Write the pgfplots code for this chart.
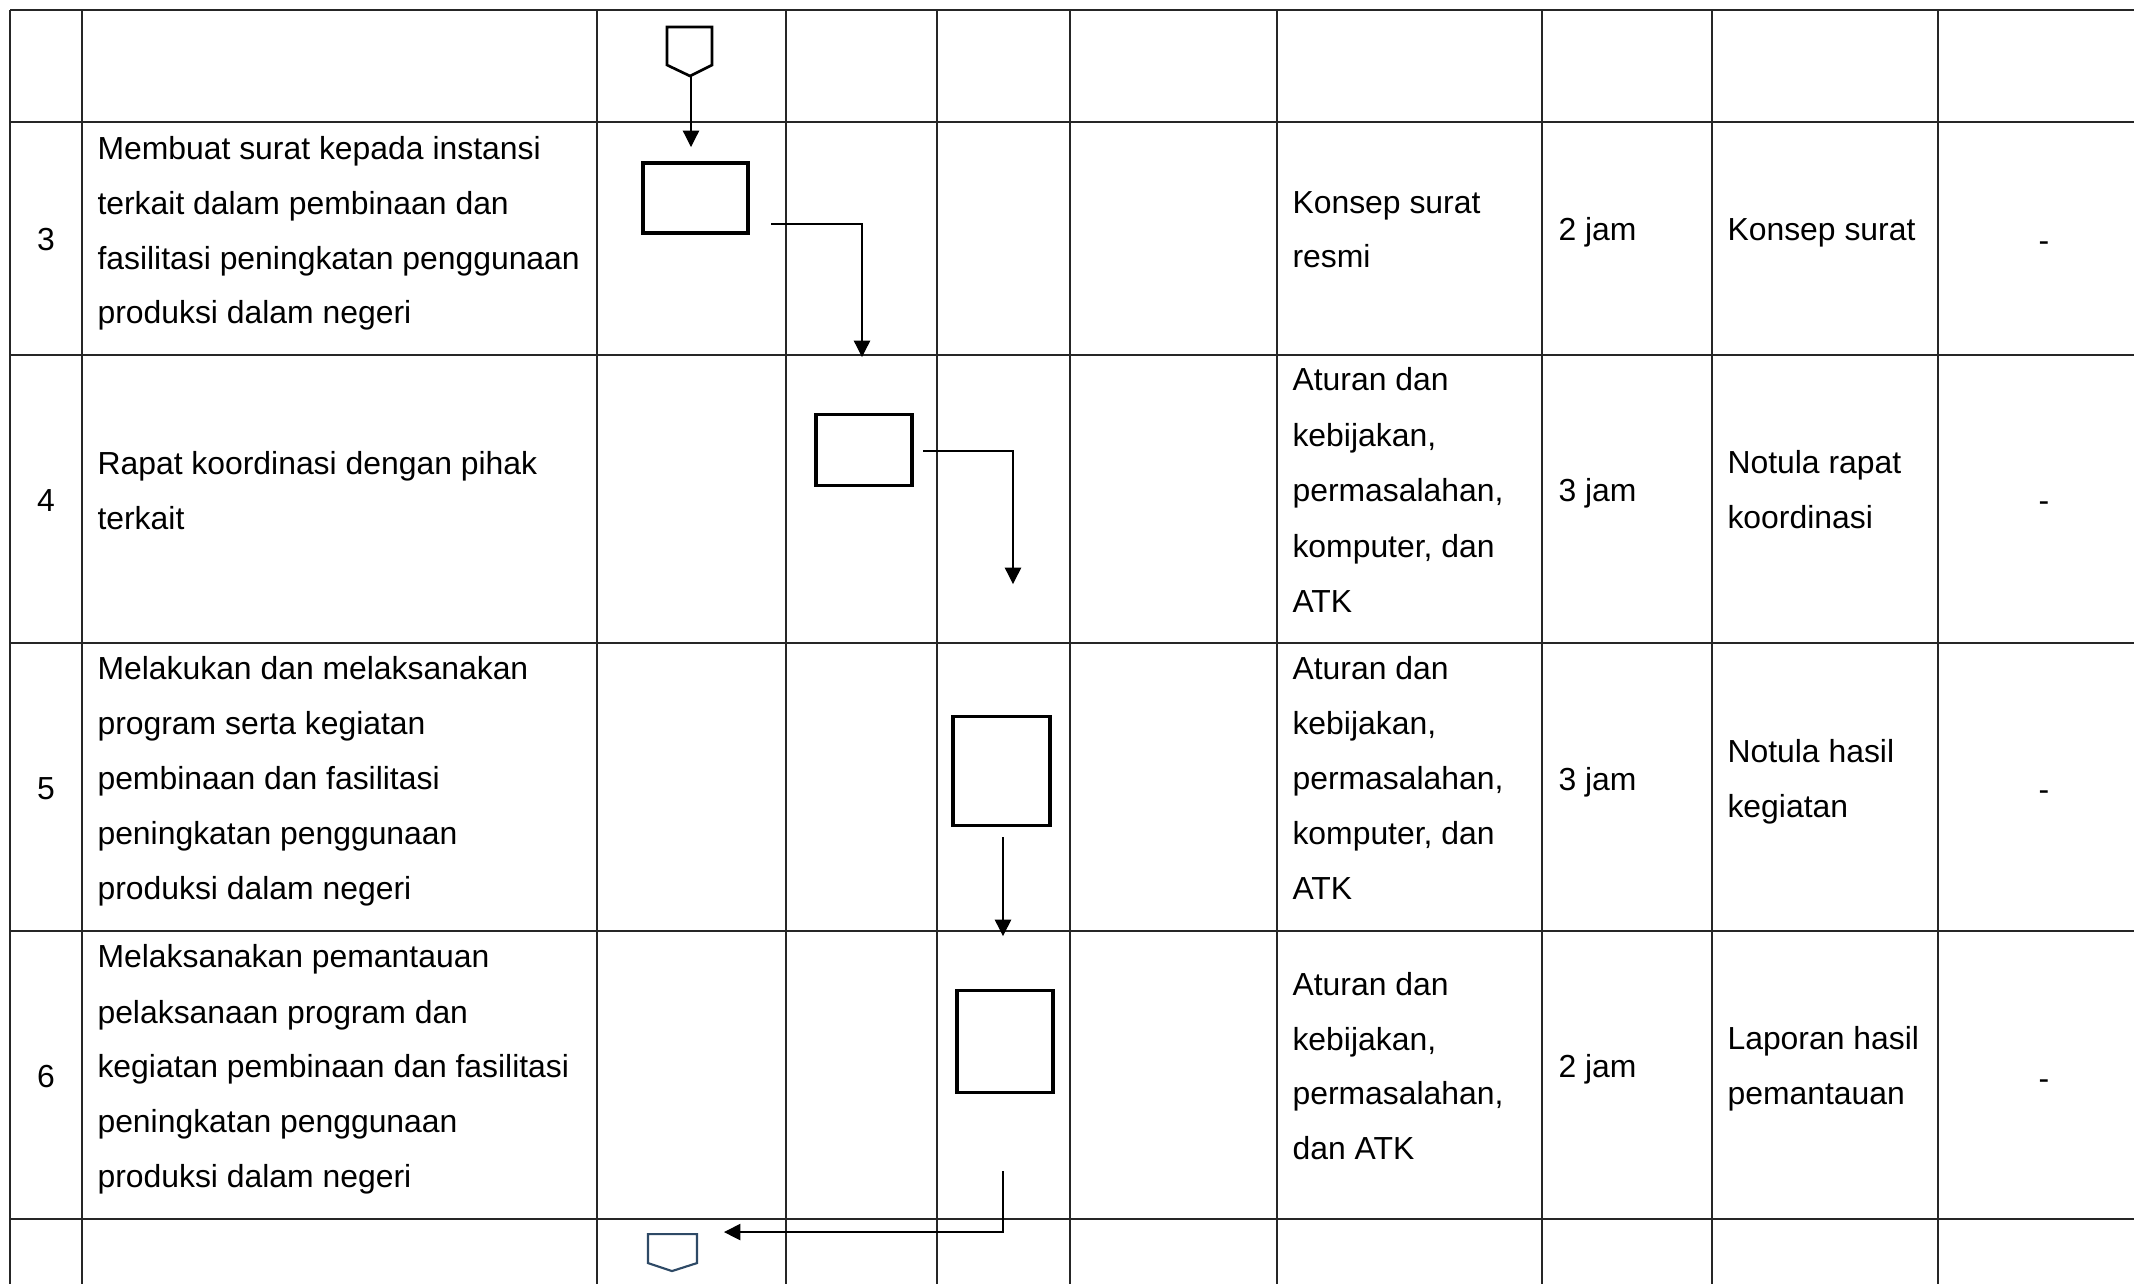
\documentclass[border=0pt]{standalone}
\usepackage{pgfplots}
\pgfplotsset{compat=1.18}
\usepackage{fontspec}
\setmainfont{Liberation Sans}
\usetikzlibrary{arrows.meta}
\definecolor{gridc}{HTML}{262626}
\definecolor{conn}{HTML}{2E4A66}
\tikzset{
  tbl/.style={draw=gridc,line width=0.5pt},
  box/.style={draw=black,line width=1.15pt,line join=miter},
  arr/.style={draw=black,line width=0.45pt,-{Triangle[length=6.2pt,width=6.2pt]}},
  txt/.style={font=\fontsize{12pt}{14pt}\selectfont,inner sep=0pt,text=black}}
\begin{document}
\begin{tikzpicture}
\begin{axis}[width=803pt,height=482.8pt,scale only axis,
  xmin=0,xmax=2134,ymin=0,ymax=1283,y dir=reverse,hide axis,clip=false]
% vertical table lines
\addplot[tbl] coordinates {(10,10) (10,1290)};
\addplot[tbl] coordinates {(82,10) (82,1290)};
\addplot[tbl] coordinates {(597,10) (597,1290)};
\addplot[tbl] coordinates {(786,10) (786,1290)};
\addplot[tbl] coordinates {(937,10) (937,1290)};
\addplot[tbl] coordinates {(1070,10) (1070,1290)};
\addplot[tbl] coordinates {(1277,10) (1277,1290)};
\addplot[tbl] coordinates {(1542,10) (1542,1290)};
\addplot[tbl] coordinates {(1712,10) (1712,1290)};
\addplot[tbl] coordinates {(1938,10) (1938,1290)};
% horizontal table lines
\addplot[tbl] coordinates {(10,10) (2140,10)};
\addplot[tbl] coordinates {(10,122) (2140,122)};
\addplot[tbl] coordinates {(10,355) (2140,355)};
\addplot[tbl] coordinates {(10,643) (2140,643)};
\addplot[tbl] coordinates {(10,931) (2140,931)};
\addplot[tbl] coordinates {(10,1219) (2140,1219)};
% connectors
\addplot[draw=black,line width=1pt,line join=miter] coordinates {(667,27) (712,27) (712,65) (690,76) (667,65)} -- cycle;
\addplot[draw=conn,line width=0.8pt,line join=miter] coordinates {(648,1234) (697,1234) (697,1263) (672,1271) (648,1263)} -- cycle;
% boxes
\addplot[box] coordinates {(643,163) (748,163) (748,233) (643,233)} -- cycle;
\addplot[box] coordinates {(816,414) (912,414) (912,485) (816,485)} -- cycle;
\addplot[box] coordinates {(953,716) (1050,716) (1050,825) (953,825)} -- cycle;
\addplot[box] coordinates {(957,990) (1053,990) (1053,1092) (957,1092)} -- cycle;
% arrows
\addplot[arr] coordinates {(691,76) (691,147)};
\addplot[arr] coordinates {(771,224) (862,224) (862,357)};
\addplot[arr] coordinates {(923,451) (1013,451) (1013,584)};
\addplot[arr] coordinates {(1003,837) (1003,936)};
\addplot[arr] coordinates {(1003,1171) (1003,1232) (724,1232)};
% row 3
\node[txt,anchor=base] at (axis cs:46,250) {3};
\node[txt,anchor=base west] at (axis cs:97,159) {Membuat surat kepada instansi};
\node[txt,anchor=base west] at (axis cs:97,214) {terkait dalam pembinaan dan};
\node[txt,anchor=base west] at (axis cs:97,269) {fasilitasi peningkatan penggunaan};
\node[txt,anchor=base west] at (axis cs:97,323) {produksi dalam negeri};
\node[txt,anchor=base west] at (axis cs:1292,213) {Konsep surat};
\node[txt,anchor=base west] at (axis cs:1292,267) {resmi};
\node[txt,anchor=base west] at (axis cs:1558,240) {2 jam};
\node[txt,anchor=base west] at (axis cs:1727,240) {Konsep surat};
\node[txt,anchor=base] at (axis cs:2044,251) {-};
% row 4
\node[txt,anchor=base] at (axis cs:46,511) {4};
\node[txt,anchor=base west] at (axis cs:97,474) {Rapat koordinasi dengan pihak};
\node[txt,anchor=base west] at (axis cs:97,529) {terkait};
\node[txt,anchor=base west] at (axis cs:1292,390) {Aturan dan};
\node[txt,anchor=base west] at (axis cs:1292,446) {kebijakan,};
\node[txt,anchor=base west] at (axis cs:1292,501) {permasalahan,};
\node[txt,anchor=base west] at (axis cs:1292,557) {komputer, dan};
\node[txt,anchor=base west] at (axis cs:1292,612) {ATK};
\node[txt,anchor=base west] at (axis cs:1558,501) {3 jam};
\node[txt,anchor=base west] at (axis cs:1727,473) {Notula rapat};
\node[txt,anchor=base west] at (axis cs:1727,528) {koordinasi};
\node[txt,anchor=base] at (axis cs:2044,511) {-};
% row 5
\node[txt,anchor=base] at (axis cs:46,799) {5};
\node[txt,anchor=base west] at (axis cs:97,679) {Melakukan dan melaksanakan};
\node[txt,anchor=base west] at (axis cs:97,734) {program serta kegiatan};
\node[txt,anchor=base west] at (axis cs:97,789) {pembinaan dan fasilitasi};
\node[txt,anchor=base west] at (axis cs:97,844) {peningkatan penggunaan};
\node[txt,anchor=base west] at (axis cs:97,899) {produksi dalam negeri};
\node[txt,anchor=base west] at (axis cs:1292,679) {Aturan dan};
\node[txt,anchor=base west] at (axis cs:1292,734) {kebijakan,};
\node[txt,anchor=base west] at (axis cs:1292,789) {permasalahan,};
\node[txt,anchor=base west] at (axis cs:1292,844) {komputer, dan};
\node[txt,anchor=base west] at (axis cs:1292,899) {ATK};
\node[txt,anchor=base west] at (axis cs:1558,790) {3 jam};
\node[txt,anchor=base west] at (axis cs:1727,762) {Notula hasil};
\node[txt,anchor=base west] at (axis cs:1727,817) {kegiatan};
\node[txt,anchor=base] at (axis cs:2044,800) {-};
% row 6
\node[txt,anchor=base] at (axis cs:46,1087) {6};
\node[txt,anchor=base west] at (axis cs:97,967) {Melaksanakan pemantauan};
\node[txt,anchor=base west] at (axis cs:97,1023) {pelaksanaan program dan};
\node[txt,anchor=base west] at (axis cs:97,1077) {kegiatan pembinaan dan fasilitasi};
\node[txt,anchor=base west] at (axis cs:97,1132) {peningkatan penggunaan};
\node[txt,anchor=base west] at (axis cs:97,1187) {produksi dalam negeri};
\node[txt,anchor=base west] at (axis cs:1292,995) {Aturan dan};
\node[txt,anchor=base west] at (axis cs:1292,1050) {kebijakan,};
\node[txt,anchor=base west] at (axis cs:1292,1104) {permasalahan,};
\node[txt,anchor=base west] at (axis cs:1292,1159) {dan ATK};
\node[txt,anchor=base west] at (axis cs:1558,1077) {2 jam};
\node[txt,anchor=base west] at (axis cs:1727,1049) {Laporan hasil};
\node[txt,anchor=base west] at (axis cs:1727,1104) {pemantauan};
\node[txt,anchor=base] at (axis cs:2044,1089) {-};
\coordinate (bl) at (axis cs:0,1283);
\coordinate (tr) at (axis cs:2134,0);
\end{axis}
\pgfresetboundingbox
\useasboundingbox (bl) rectangle (tr);
\end{tikzpicture}
\end{document}
